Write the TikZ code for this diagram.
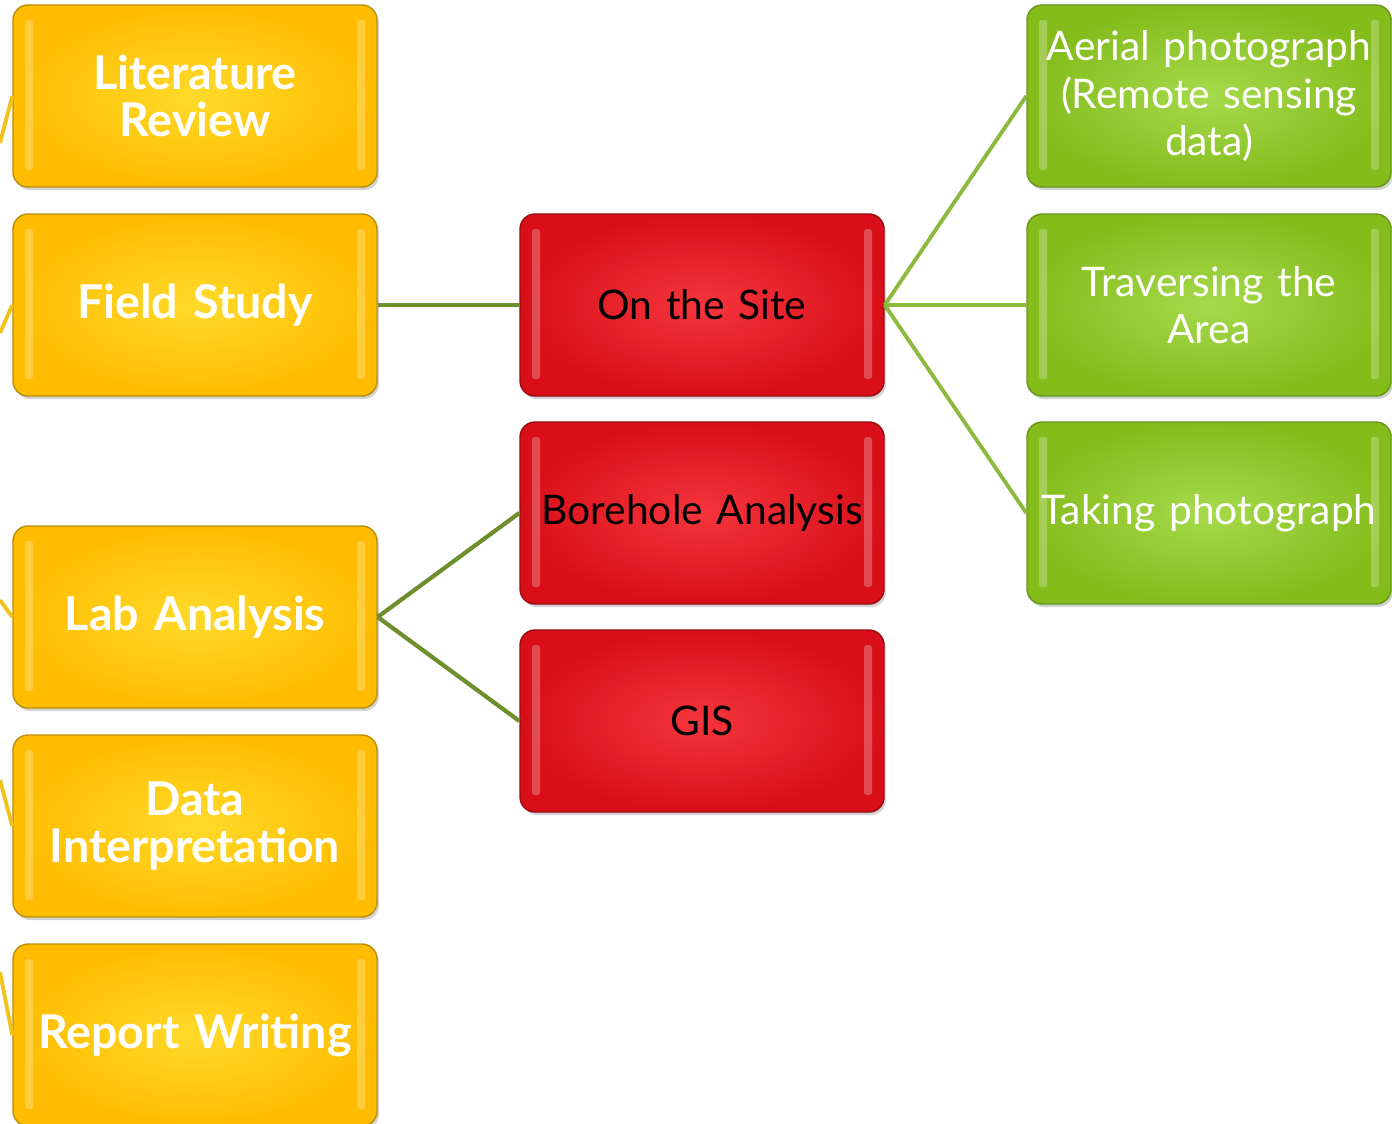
\documentclass[tikz,border=0pt]{standalone}
\usepackage{fontspec}
\setmainfont{Lato}
\usetikzlibrary{shadows}

\definecolor{ylwin}{HTML}{FFDA2A}
\definecolor{ylwout}{HTML}{FFBC00}
\definecolor{ylwedge}{HTML}{B8900A}
\definecolor{redin}{HTML}{F5353D}
\definecolor{redout}{HTML}{D80F19}
\definecolor{rededge}{HTML}{9A0A10}
\definecolor{grnin}{HTML}{A6DA4C}
\definecolor{grnout}{HTML}{84BC1C}
\definecolor{grnedge}{HTML}{66951A}
\definecolor{olivelink}{HTML}{6F8F2E}
\definecolor{greenlink}{HTML}{8CBA3E}
\definecolor{ylwlink}{HTML}{F2C21A}

\tikzset{
  box/.style={rounded corners=0.3cm, minimum width=7.28cm, minimum height=3.64cm,
    align=center, text width=7.2cm, inner sep=0pt, line width=0.8pt,
    drop shadow={opacity=0.35, shadow xshift=0.04cm, shadow yshift=-0.06cm},
    path picture={
      \fill[white, opacity=0.25, rounded corners=1.5pt]
        ([xshift=0.24cm, yshift=-0.3cm]path picture bounding box.north west)
        rectangle ++(0.16cm, -3.0cm);
      \fill[white, opacity=0.25, rounded corners=1.5pt]
        ([xshift=-0.24cm, yshift=-0.3cm]path picture bounding box.north east)
        rectangle ++(-0.16cm, -3.0cm);
    }},
  ylwbox/.style={box, draw=ylwedge, inner color=ylwin, outer color=ylwout,
    text=white, font=\bfseries\fontsize{26.5}{27}\selectfont},
  redbox/.style={box, draw=rededge, inner color=redin, outer color=redout,
    text=black, font=\fontsize{23.2}{27}\selectfont},
  grnbox/.style={box, draw=grnedge, inner color=grnin, outer color=grnout,
    text=white, font=\fontsize{23.2}{27}\selectfont},
  ylwline/.style={ylwlink, line width=2.2pt},
  oliveline/.style={olivelink, line width=2.4pt},
  grnline/.style={greenlink, line width=2.2pt}
}

\begin{document}
\begin{tikzpicture}
  \useasboundingbox (0,0) rectangle (27.84,-22.46);

  % steps
  \node[ylwbox] (lit) at (3.9,-1.92) {Literature\\Review};
  \node[ylwbox] (field) at (3.9,-6.10) {Field Study};
  \node[ylwbox] (lab) at (3.9,-12.34) {Lab Analysis};
  \node[ylwbox] (interp) at (3.9,-16.52) {Data\\Interpretation};
  \node[ylwbox] (report) at (3.9,-20.70) {Report Writing};

  % field and lab work
  \node[redbox] (site) at (14.04,-6.10) {On the Site};
  \node[redbox] (borehole) at (14.04,-10.26) {Borehole Analysis};
  \node[redbox] (gis) at (14.04,-14.42) {GIS};

  % on the site
  \node[grnbox] (aerial) at (24.18,-1.92) {Aerial photograph\\(Remote sensing\\data)};
  \node[grnbox] (traverse) at (24.18,-6.10) {Traversing the\\Area};
  \node[grnbox] (photo) at (24.18,-10.26) {Taking photograph};

  % links from the root, off the page
  \coordinate (litin) at (0,-2.86);
  \coordinate (fieldin) at (0,-6.66);
  \coordinate (labin) at (0,-12.0);
  \coordinate (interpin) at (0,-15.6);
  \coordinate (reportin) at (0,-19.44);
  \draw[ylwline] (litin) -- (lit.west);
  \draw[ylwline] (fieldin) -- (field.west);
  \draw[ylwline] (labin) -- (lab.west);
  \draw[ylwline] (interpin) -- (interp.west);
  \draw[ylwline] (reportin) -- (report.west);

  \draw[oliveline] (field.east) -- (site.west);
  \draw[oliveline] (lab.east) -- (borehole.west);
  \draw[oliveline] (lab.east) -- (gis.west);

  \draw[grnline] (site.east) -- (aerial.west);
  \draw[grnline] (site.east) -- (traverse.west);
  \draw[grnline] (site.east) -- (photo.west);
\end{tikzpicture}
\end{document}
